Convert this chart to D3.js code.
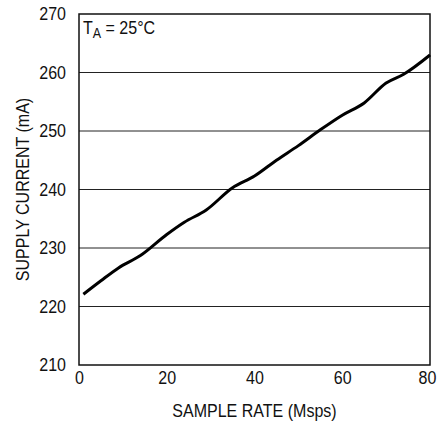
<!DOCTYPE html>
<html>
<head>
<meta charset="utf-8">
<script src="https://cdn.jsdelivr.net/npm/d3@7"></script>
<style>
  body { margin: 0; background: #fff; }
  svg text { font-family: "Liberation Sans Narrow", "Arial Narrow", "Liberation Sans", sans-serif; fill: #111; }
</style>
</head>
<body>
<script>
const width = 439;
const height = 423;

// values
const sampleRate = [1, 5, 9, 14, 20, 24, 29, 35, 40, 45, 50, 55, 60, 65, 70, 74, 80];
const supplyCurrent = [222.1, 224.4, 226.6, 228.7, 232.3, 234.4, 236.5, 240.3, 242.3, 245.0, 247.5, 250.2, 252.7, 254.8, 258.2, 259.7, 263.0];
const xTicks = [0, 20, 40, 60, 80];
const yTicks = [210, 220, 230, 240, 250, 260, 270];

const margin = { top: 14, right: 9, bottom: 58, left: 79 };

const svg = d3.select('body').append('svg')
  .attr('width', width)
  .attr('height', height);

const x = d3.scaleLinear().domain([0, 80]).range([margin.left, width - margin.right]);
const y = d3.scaleLinear().domain([210, 270]).range([height - margin.bottom, margin.top]);

// squeeze text horizontally, the original uses a condensed face
function narrow(sel) {
  sel.each(function () {
    const len = this.getComputedTextLength();
    d3.select(this)
      .attr('textLength', len * 0.89)
      .attr('lengthAdjust', 'spacingAndGlyphs');
  });
}

// grid lines
svg.append('g')
  .selectAll('line')
  .data(yTicks.slice(1, -1))
  .enter().append('line')
    .attr('x1', x(0))
    .attr('x2', x(80))
    .attr('y1', d => y(d))
    .attr('y2', d => y(d))
    .attr('stroke', '#222')
    .attr('stroke-width', 1);

// frame
svg.append('rect')
  .attr('x', x(0))
  .attr('y', y(270))
  .attr('width', x(80) - x(0))
  .attr('height', y(210) - y(270))
  .attr('fill', 'none')
  .attr('stroke', '#111')
  .attr('stroke-width', 1.5);

// tick labels
const xAxis = svg.append('g')
  .attr('transform', `translate(0, ${y(210)})`)
  .call(d3.axisBottom(x).tickValues(xTicks).tickSize(0).tickPadding(6));
xAxis.select('.domain').remove();
xAxis.selectAll('text')
  .attr('font-size', 18)
  .attr('fill', '#111')
  .attr('dx', d => d === 80 ? -3 : 0)
  .call(narrow);

const yAxis = svg.append('g')
  .attr('transform', `translate(${x(0)}, 0)`)
  .call(d3.axisLeft(y).tickValues(yTicks).tickSize(0).tickPadding(13));
yAxis.select('.domain').remove();
yAxis.selectAll('text').attr('font-size', 18).attr('fill', '#111').call(narrow);

// data line
const line = d3.line()
  .x((d, i) => x(sampleRate[i]))
  .y(d => y(d))
  .curve(d3.curveMonotoneX);

svg.append('path')
  .datum(supplyCurrent)
  .attr('d', line)
  .attr('fill', 'none')
  .attr('stroke', '#000')
  .attr('stroke-width', 3)
  .attr('stroke-linejoin', 'round');

// axis titles
svg.append('text')
  .attr('x', (x(0) + x(80)) / 2)
  .attr('y', 417)
  .attr('text-anchor', 'middle')
  .attr('font-size', 18)
  .text('SAMPLE RATE (Msps)')
  .call(narrow);

svg.append('text')
  .attr('transform', `translate(29, ${(y(210) + y(270)) / 2}) rotate(-90)`)
  .attr('text-anchor', 'middle')
  .attr('font-size', 18)
  .text('SUPPLY CURRENT (mA)')
  .call(narrow);

// annotation
const note = svg.append('text')
  .attr('transform', 'translate(83, 34) scale(0.89, 1)')
  .attr('font-size', 18);
note.append('tspan').text('T');
note.append('tspan').attr('dy', 4).attr('font-size', 14).text('A');
note.append('tspan').attr('dy', -4).text(' = 25°C');
</script>
</body>
</html>
